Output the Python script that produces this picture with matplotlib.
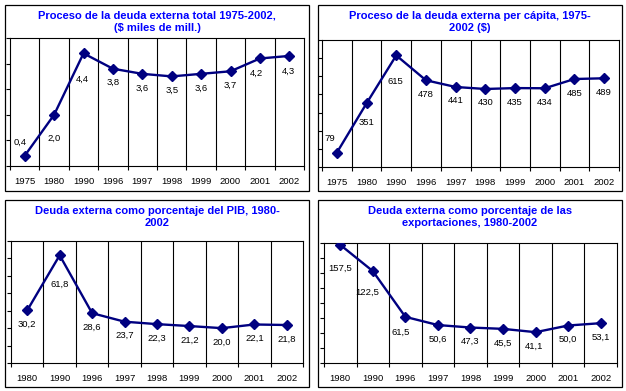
import matplotlib
matplotlib.use('Agg')
import matplotlib.pyplot as plt
from matplotlib.patches import Rectangle
from matplotlib.ticker import MultipleLocator

plt.rcParams['font.family'] = ['Liberation Sans', 'DejaVu Sans']

# data
years_a = ['1975', '1980', '1990', '1996', '1997', '1998', '1999', '2000', '2001', '2002']
years_b = ['1980', '1990', '1996', '1997', '1998', '1999', '2000', '2001', '2002']

deuda_total = [0.4, 2.0, 4.4, 3.8, 3.6, 3.5, 3.6, 3.7, 4.2, 4.3]
deuda_percapita = [79, 351, 615, 478, 441, 430, 435, 434, 485, 489]
deuda_pib = [30.2, 61.8, 28.6, 23.7, 22.3, 21.2, 20.0, 22.1, 21.8]
deuda_export = [157.5, 122.5, 61.5, 50.6, 47.3, 45.5, 41.1, 50.0, 53.1]

titles = ['Proceso de la deuda externa total 1975-2002,\n($ miles de mill.)',
          'Proceso de la deuda externa per cápita, 1975-\n2002 ($)',
          'Deuda externa como porcentaje del PIB, 1980-\n2002',
          'Deuda externa como porcentaje de las\nexportaciones, 1980-2002']

W, H = 626, 391
fig = plt.figure(figsize=(W / 100, H / 100), dpi=100)

def px_rect(x0, y0, x1, y1):
    # pixel box (top-left origin) -> figure fraction
    return [x0 / W, 1 - y1 / H, (x1 - x0) / W, (y1 - y0) / H]

# panel box, plot box, y max, y step, decimals, special label offsets
panels = [
    ((5, 5, 309, 191), (10, 38, 304, 166), years_a, deuda_total, 5, 1, 1,
     {0: (-5, 13), 1: (0, -24), 2: (-1, -26), 8: (-3, -15), 9: (-1, -15)}),
    ((318, 5, 622, 191), (322, 40, 619, 167), years_a, deuda_percapita, 700, 100, 0,
     {0: (-7, 14), 1: (0, -19), 2: (-1, -26)}),
    ((5, 200, 309, 387), (11, 241, 303, 363), years_b, deuda_pib, 70, 10, 1,
     {1: (0, -29)}),
    ((318, 200, 622, 387), (324, 243, 617, 363), years_b, deuda_export, 160, 20, 1,
     {0: (0, -23), 1: (-6, -21), 2: (-5, -15), 6: (-2, -14)}),
]

navy = '#000080'

for k, (box, area, cats, vals, ymax, ystep, dec, special) in enumerate(panels):
    bx0, by0, bx1, by1 = box
    fig.patches.append(Rectangle((bx0 / W, 1 - by1 / H), (bx1 - bx0) / W, (by1 - by0) / H,
                                 transform=fig.transFigure, fill=False,
                                 edgecolor='black', linewidth=0.9))
    fig.text((bx0 + bx1) / 2 / W, 1 - (by0 + 17) / H, titles[k], ha='center', va='center',
             color='#0000FF', fontsize=8.0, fontweight='bold', linespacing=1.25)

    ax = fig.add_axes(px_rect(*area))
    n = len(cats)
    x = list(range(n))
    ax.plot(x, vals, color=navy, linewidth=1.7, marker='D', markersize=5.5,
            markerfacecolor=navy, markeredgecolor=navy, zorder=3)

    ax.set_xlim(-0.5, n - 0.5)
    ax.set_ylim(0, ymax)
    for b in range(n - 1):
        ax.axvline(b + 0.5, color='black', linewidth=0.8, zorder=1)

    ax.set_xticks(x)
    ax.set_xticklabels(cats, fontsize=6.8)
    ax.set_xticks([b - 0.5 for b in range(n + 1)], minor=True)
    ax.tick_params(axis='x', which='major', length=0, pad=8)
    ax.tick_params(axis='x', which='minor', length=3, width=0.8, direction='out')
    ax.yaxis.set_major_locator(MultipleLocator(ystep))
    ax.tick_params(axis='y', length=3, width=0.8, direction='out', labelleft=False)
    for s in ax.spines.values():
        s.set_linewidth(0.8)

    for i, v in enumerate(vals):
        txt = f'{v:.{dec}f}'.replace('.', ',')
        dx, dy = special.get(i, (0, -14))
        ax.annotate(txt, (i, v), xytext=(dx, dy), textcoords='offset pixels',
                    ha='center', va='center', fontsize=6.8, color='black', zorder=4)

fig.savefig('out.png', dpi=100)
